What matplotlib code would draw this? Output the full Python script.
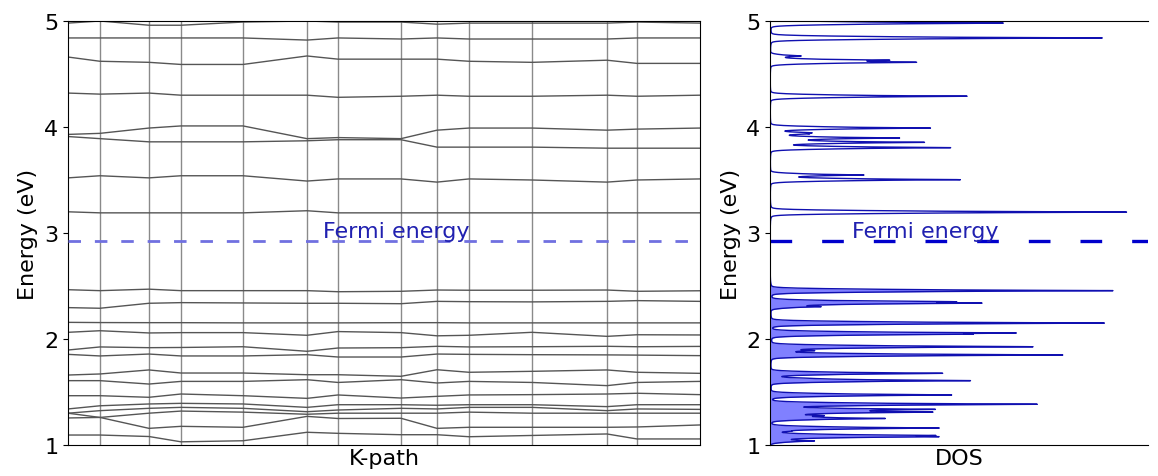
import numpy as np
import matplotlib.pyplot as plt

# k-path node positions (cumulative path length, arbitrary units)
k_nodes = [0, 32, 81, 113, 175, 239, 270, 333, 369, 401, 464, 539, 569, 632]

# band energies (eV) at each k node
bands = [
    [4.98, 5.00, 4.96, 4.96, 4.99, 5.00, 4.99, 4.99, 4.97, 4.98, 4.98, 4.98, 4.99, 4.98],
    [4.84, 4.84, 4.84, 4.84, 4.84, 4.82, 4.84, 4.83, 4.84, 4.83, 4.83, 4.83, 4.84, 4.84],
    [4.66, 4.62, 4.61, 4.59, 4.59, 4.67, 4.64, 4.64, 4.64, 4.62, 4.61, 4.63, 4.60, 4.60],
    [4.32, 4.31, 4.32, 4.30, 4.30, 4.30, 4.28, 4.29, 4.30, 4.29, 4.29, 4.30, 4.29, 4.30],
    [3.93, 3.94, 3.99, 4.01, 4.01, 3.89, 3.90, 3.89, 3.97, 3.99, 3.99, 3.97, 3.98, 3.99],
    [3.91, 3.89, 3.86, 3.86, 3.86, 3.87, 3.88, 3.88, 3.81, 3.81, 3.81, 3.80, 3.80, 3.80],
    [3.52, 3.54, 3.52, 3.54, 3.54, 3.49, 3.51, 3.51, 3.48, 3.51, 3.50, 3.48, 3.50, 3.51],
    [3.20, 3.19, 3.19, 3.19, 3.19, 3.21, 3.19, 3.19, 3.19, 3.19, 3.19, 3.19, 3.19, 3.19],
    [2.465, 2.456, 2.47, 2.456, 2.456, 2.456, 2.446, 2.45, 2.462, 2.46, 2.46, 2.462, 2.45, 2.455],
    [2.296, 2.29, 2.337, 2.343, 2.34, 2.337, 2.337, 2.333, 2.355, 2.352, 2.35, 2.355, 2.362, 2.355],
    [2.157, 2.155, 2.154, 2.154, 2.152, 2.152, 2.152, 2.154, 2.154, 2.152, 2.152, 2.152, 2.152, 2.152],
    [2.063, 2.078, 2.057, 2.06, 2.06, 2.035, 2.07, 2.06, 2.03, 2.035, 2.063, 2.025, 2.04, 2.038],
    [1.896, 1.925, 1.918, 1.92, 1.927, 1.884, 1.915, 1.918, 1.931, 1.925, 1.927, 1.931, 1.927, 1.93],
    [1.855, 1.84, 1.858, 1.84, 1.84, 1.852, 1.83, 1.83, 1.858, 1.855, 1.852, 1.85, 1.848, 1.843],
    [1.66, 1.67, 1.708, 1.679, 1.679, 1.663, 1.663, 1.648, 1.71, 1.686, 1.695, 1.708, 1.686, 1.676],
    [1.607, 1.607, 1.575, 1.60, 1.60, 1.616, 1.59, 1.616, 1.585, 1.60, 1.59, 1.56, 1.59, 1.60],
    [1.465, 1.465, 1.45, 1.481, 1.465, 1.44, 1.472, 1.443, 1.459, 1.472, 1.475, 1.481, 1.488, 1.475],
    [1.34, 1.37, 1.387, 1.393, 1.387, 1.355, 1.38, 1.38, 1.375, 1.38, 1.38, 1.362, 1.38, 1.38],
    [1.30, 1.324, 1.346, 1.355, 1.346, 1.314, 1.33, 1.346, 1.34, 1.355, 1.355, 1.324, 1.34, 1.336],
    [1.255, 1.26, 1.30, 1.32, 1.31, 1.29, 1.30, 1.30, 1.30, 1.31, 1.30, 1.30, 1.30, 1.30],
    [1.30, 1.26, 1.157, 1.176, 1.167, 1.27, 1.25, 1.252, 1.157, 1.167, 1.167, 1.167, 1.17, 1.189],
    [1.094, 1.094, 1.08, 1.03, 1.04, 1.12, 1.11, 1.097, 1.097, 1.078, 1.09, 1.104, 1.057, 1.057],
]

# DOS peaks: energy (eV) and peak height (a.u.)
dos_peak_e = [4.98, 4.84, 4.67, 4.63, 4.61, 4.29, 3.99, 3.945, 3.935, 3.896, 3.855, 3.805,
              3.547, 3.503, 3.197, 2.456, 2.352, 2.338, 2.305, 2.15, 2.057, 2.045, 1.927,
              1.89, 1.849, 1.676, 1.63, 1.607, 1.472, 1.384, 1.336, 1.31, 1.277, 1.25,
              1.16, 1.13, 1.09, 1.078, 1.038]
dos_peak_h = [233, 332, 30, 100, 132, 197, 160, 30, 25, 128, 153, 180,
              93, 190, 357, 343, 135, 171, 47, 334, 199, 130, 262,
              40, 292, 172, 20, 198, 181, 266, 155, 152, 45, 112,
              168, 15, 120, 125, 43]

e_fermi = 2.925

fig = plt.figure(figsize=(11.58, 4.77), dpi=100)
ax1 = fig.add_axes([0.0587, 0.065, 0.5458, 0.8889])
ax2 = fig.add_axes([0.665, 0.065, 0.3264, 0.8889])

# band structure
for k in k_nodes[1:-1]:
    ax1.axvline(k, color='#8a8a8a', lw=1.0, zorder=1)
for b in bands:
    ax1.plot(k_nodes, b, color='#555555', lw=1.0, zorder=2)
ax1.axhline(e_fermi, color='#7070e0', lw=2.0, ls=(0, (4.5, 5.0)), zorder=3)
ax1.text(k_nodes[-1] * 0.52, e_fermi + 0.04, 'Fermi energy', color='#2020b0',
         fontsize=16, ha='center', va='baseline')
ax1.set_xlim(k_nodes[0], k_nodes[-1])
ax1.set_ylim(1, 5)
ax1.set_xticks([])
ax1.set_yticks([1, 2, 3, 4, 5])
ax1.set_xlabel('K-path', fontsize=16, labelpad=2)
ax1.set_ylabel('Energy (eV)', fontsize=16)
ax1.tick_params(labelsize=16)

# density of states (pseudo-voigt broadened peaks)
energy = np.linspace(1, 5, 8000)
sigma, gamma = 0.012, 0.004
dos = np.zeros_like(energy)
for e0, h in zip(dos_peak_e, dos_peak_h):
    d = energy - e0
    dos += h * (0.5 * np.exp(-0.5 * (d / sigma)**2) + 0.5 * gamma**2 / (d**2 + gamma**2))

occ = energy <= e_fermi
ax2.fill_betweenx(energy[occ], 0, dos[occ], color='#8080ff', lw=0)
ax2.plot(dos, energy, color='#1010b0', lw=1.0)
ax2.axhline(e_fermi, color='#0000cc', lw=2.4, ls=(0, (6.5, 9.0)))
ax2.text(155, e_fermi + 0.04, 'Fermi energy', color='#2020b0',
         fontsize=16, ha='center', va='baseline')
ax2.set_xlim(0, 378)
ax2.set_ylim(1, 5)
ax2.set_xticks([])
ax2.set_yticks([1, 2, 3, 4, 5])
ax2.spines['right'].set_visible(False)
ax2.set_xlabel('DOS', fontsize=16, labelpad=2)
ax2.set_ylabel('Energy (eV)', fontsize=16)
ax2.tick_params(labelsize=16)

fig.savefig('out.png', dpi=100)
